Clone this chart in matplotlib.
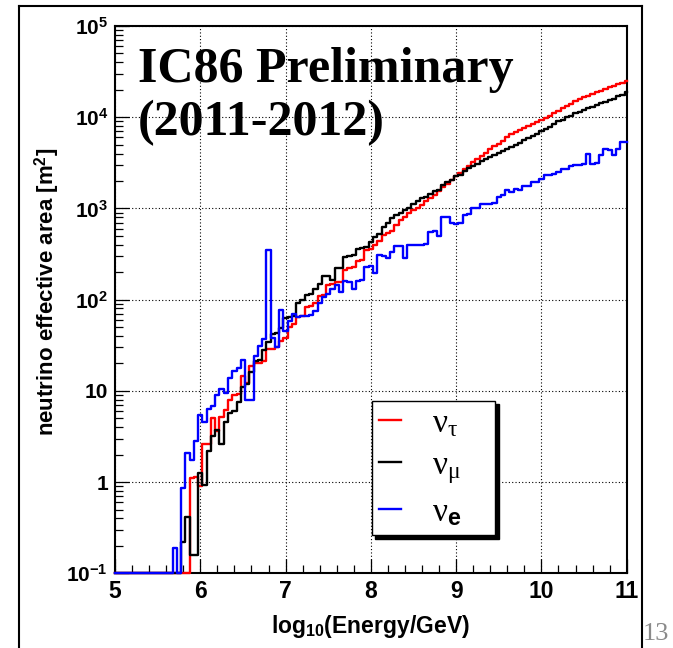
import numpy as np
import matplotlib
matplotlib.use('Agg')
import matplotlib.pyplot as plt
from matplotlib.lines import Line2D
from matplotlib.ticker import FixedLocator, MultipleLocator, LogLocator, NullFormatter

plt.rcParams['font.family'] = ['Liberation Sans', 'DejaVu Sans']
plt.rcParams['mathtext.fontset'] = 'custom'
plt.rcParams['mathtext.rm'] = 'Liberation Sans'
plt.rcParams['mathtext.it'] = 'Liberation Serif'
plt.rcParams['mathtext.bf'] = 'Liberation Sans:bold'

# ── Data: log10(E/GeV) bin centres, effective areas [m^2] (0 = empty bin) ───
log_e = np.round(np.arange(5.0, 11.0001, 0.05), 2)

nu_tau = [0] * 18 + [
    1.1, 1.15, 0.9, 2.6, 2.6, 5.0, 3.6, 5.2, 6.2, 8.0,
    9.1, 9.2, 14.5, 12.2, 18.5, 20, 20, 21, 29, 29,
    30, 35, 38, 50, 54, 65, 67, 83, 85, 92,
    110, 112, 145, 150, 155, 158, 210, 225, 230, 265,
    270, 350, 360, 400, 440, 510, 540, 560, 650, 740,
    800, 880, 950, 1020, 1080, 1200, 1300, 1400, 1550, 1700,
    1850, 2050, 2250, 2450, 2700, 2950, 3200, 3500, 3800, 4100,
    4500, 4800, 5100, 5500, 6000, 6500, 6900, 7200, 7700, 8100,
    8500, 8900, 9300, 9800, 10400, 11000, 11800, 12500, 13200, 14000,
    15000, 15800, 16500, 17300, 18000, 18800, 19500, 20300, 21200, 22000,
    22900, 23800, 25000]

nu_mu = [0] * 16 + [
    0.22, 0.41, 0.16, 0.16, 1.25, 0.93, 2.2, 3.2, 3.7, 2.6,
    4.5, 5.7, 6.0, 7.6, 11, 12, 16, 21, 22, 28,
    34, 42, 43, 49, 63, 65, 66, 92, 100, 112,
    115, 132, 150, 180, 182, 165, 220, 222, 290, 300,
    305, 355, 370, 375, 430, 490, 530, 630, 690, 780,
    850, 880, 950, 1000, 1120, 1200, 1300, 1350, 1450, 1550,
    1600, 1800, 1950, 2050, 2250, 2350, 2600, 2750, 2950, 3100,
    3350, 3500, 3700, 3850, 4050, 4300, 4450, 4700, 5000, 5200,
    5600, 5850, 6300, 6600, 7100, 7400, 7900, 8500, 9200, 9400,
    10000, 10400, 11000, 11300, 12000, 12500, 12900, 13500, 14200, 14600,
    15500, 16000, 17000, 17600, 18800]

nu_e = [0] * 14 + [
    0.19, 0, 0.86, 2.1, 1.75, 2.8, 5.4, 4.5, 6.3, 6.8,
    9.0, 10.6, 9.4, 13.8, 16.4, 17.9, 22, 8.0, 8.0, 24,
    31, 37, 350, 38, 30, 77, 45, 59, 70, 65,
    66, 66, 68, 76, 93, 107, 116, 132, 143, 121,
    162, 158, 132, 162, 165, 229, 235, 195, 310, 300,
    288, 330, 390, 390, 288, 400, 400, 400, 400, 410,
    550, 560, 500, 800, 810, 690, 680, 700, 850, 860,
    1000, 1000, 1120, 1120, 1130, 1150, 1350, 1400, 1600, 1500,
    1650, 1600, 1750, 1780, 1950, 1950, 2100, 2300, 2350, 2400,
    2500, 2700, 2700, 2900, 3000, 3000, 3100, 4000, 3100, 3150,
    3900, 4500, 4400, 3900, 4500, 5300, 5400]

series = [(nu_tau, 'red', r'$\nu_{\tau}$'),
          (nu_mu, 'black', r'$\nu_{\mu}$'),
          (nu_e, 'blue', r'$\nu_{\mathbf{e}}$')]

y_ticks = [0.1, 1, 10, 100, 1000, 10000, 100000]
y_ticklabels = [r'$\mathbf{10^{-1}}$', '1', '10', r'$\mathbf{10^{2}}$',
                r'$\mathbf{10^{3}}$', r'$\mathbf{10^{4}}$', r'$\mathbf{10^{5}}$']
x_ticks = [5, 6, 7, 8, 9, 10, 11]

# ── Figure ──────────────────────────────────────────────────────────────────
fig = plt.figure(figsize=(6.73, 6.48), dpi=100)
W, H = 673, 648
ax = fig.add_axes([115 / W, 1 - 573.3 / H, 511.7 / W, 547.3 / H])

ymin = y_ticks[0]
handles = []
for vals, col, lab in series:
    v = np.asarray(vals, dtype=float)
    assert len(v) == len(log_e)
    v = np.where(v > 0, v, ymin)
    h, = ax.step(log_e, v, where='mid', color=col, lw=1.7, label=lab,
                 zorder=3, clip_on=False)
    handles.append(h)

ax.set_yscale('log')
ax.set_xlim(5, 11)
ax.set_ylim(0.1, 1e5)

ax.yaxis.set_major_locator(FixedLocator(y_ticks))
ax.set_yticklabels(y_ticklabels, fontsize=15, fontweight='bold')
ax.yaxis.set_minor_locator(LogLocator(base=10, subs=np.arange(2, 10)))
ax.yaxis.set_minor_formatter(NullFormatter())
ax.set_xticks(x_ticks)
ax.set_xticklabels([str(t) for t in x_ticks], fontsize=16.5, fontweight='bold')
ax.xaxis.set_minor_locator(MultipleLocator(0.2))

ax.tick_params(which='both', direction='in', top=False, right=False, width=0.9)
ax.tick_params(which='major', length=10)
ax.tick_params(which='minor', length=5.5)
ax.tick_params(axis='y', which='major', pad=5)
ax.tick_params(axis='x', which='major', pad=5)

ax.grid(which='major', linestyle=(0, (1, 2)), color='black', linewidth=0.8)
for sp in ax.spines.values():
    sp.set_linewidth(1.5)

ax.set_ylabel(r'neutrino effective area [m$^{\mathbf{2}}$]', fontsize=16,
              fontweight='bold', va='center')
ax.yaxis.set_label_coords(-0.133, 0.515)
ax.set_xlabel(r'$\mathbf{log_{10}(Energy/GeV)}$', fontsize=16.5, va='baseline')
ax.xaxis.set_label_coords(0.5, -0.109)

ax.text(0.045, 0.898, 'IC86 Preliminary', transform=ax.transAxes,
        fontsize=36, fontweight='bold', family='Liberation Serif', va='baseline')
ax.text(0.045, 0.801, '(2011-2012)', transform=ax.transAxes,
        fontsize=36, fontweight='bold', family='Liberation Serif', va='baseline')

leg = ax.legend(handles=handles, loc='upper left', mode='expand',
                bbox_to_anchor=(0.5017, 0.0687, 0.241, 0.2467), borderaxespad=0,
                fontsize=24, handlelength=0.65, handletextpad=0.95,
                labelspacing=0.33, borderpad=0.22, fancybox=False,
                framealpha=1, edgecolor='black',
                shadow={'color': 'black', 'alpha': 1, 'ox': 2.5, 'oy': -2.5})
leg.get_frame().set_linewidth(1.0)

# outer slide border and page number
fig.add_artist(Line2D([19 / W, 19 / W], [0, 1 - 6 / H], color='black', lw=1.5))
fig.add_artist(Line2D([641.7 / W, 641.7 / W], [0, 1 - 6 / H], color='black', lw=1.5))
fig.add_artist(Line2D([19 / W, 641.7 / W], [1 - 6 / H, 1 - 6 / H], color='black', lw=1.5))
fig.text(643 / W, 8 / H, '13', fontsize=19, family='Liberation Serif',
         color='#8a8a8a', va='baseline')

fig.savefig('out.png', dpi=100)
